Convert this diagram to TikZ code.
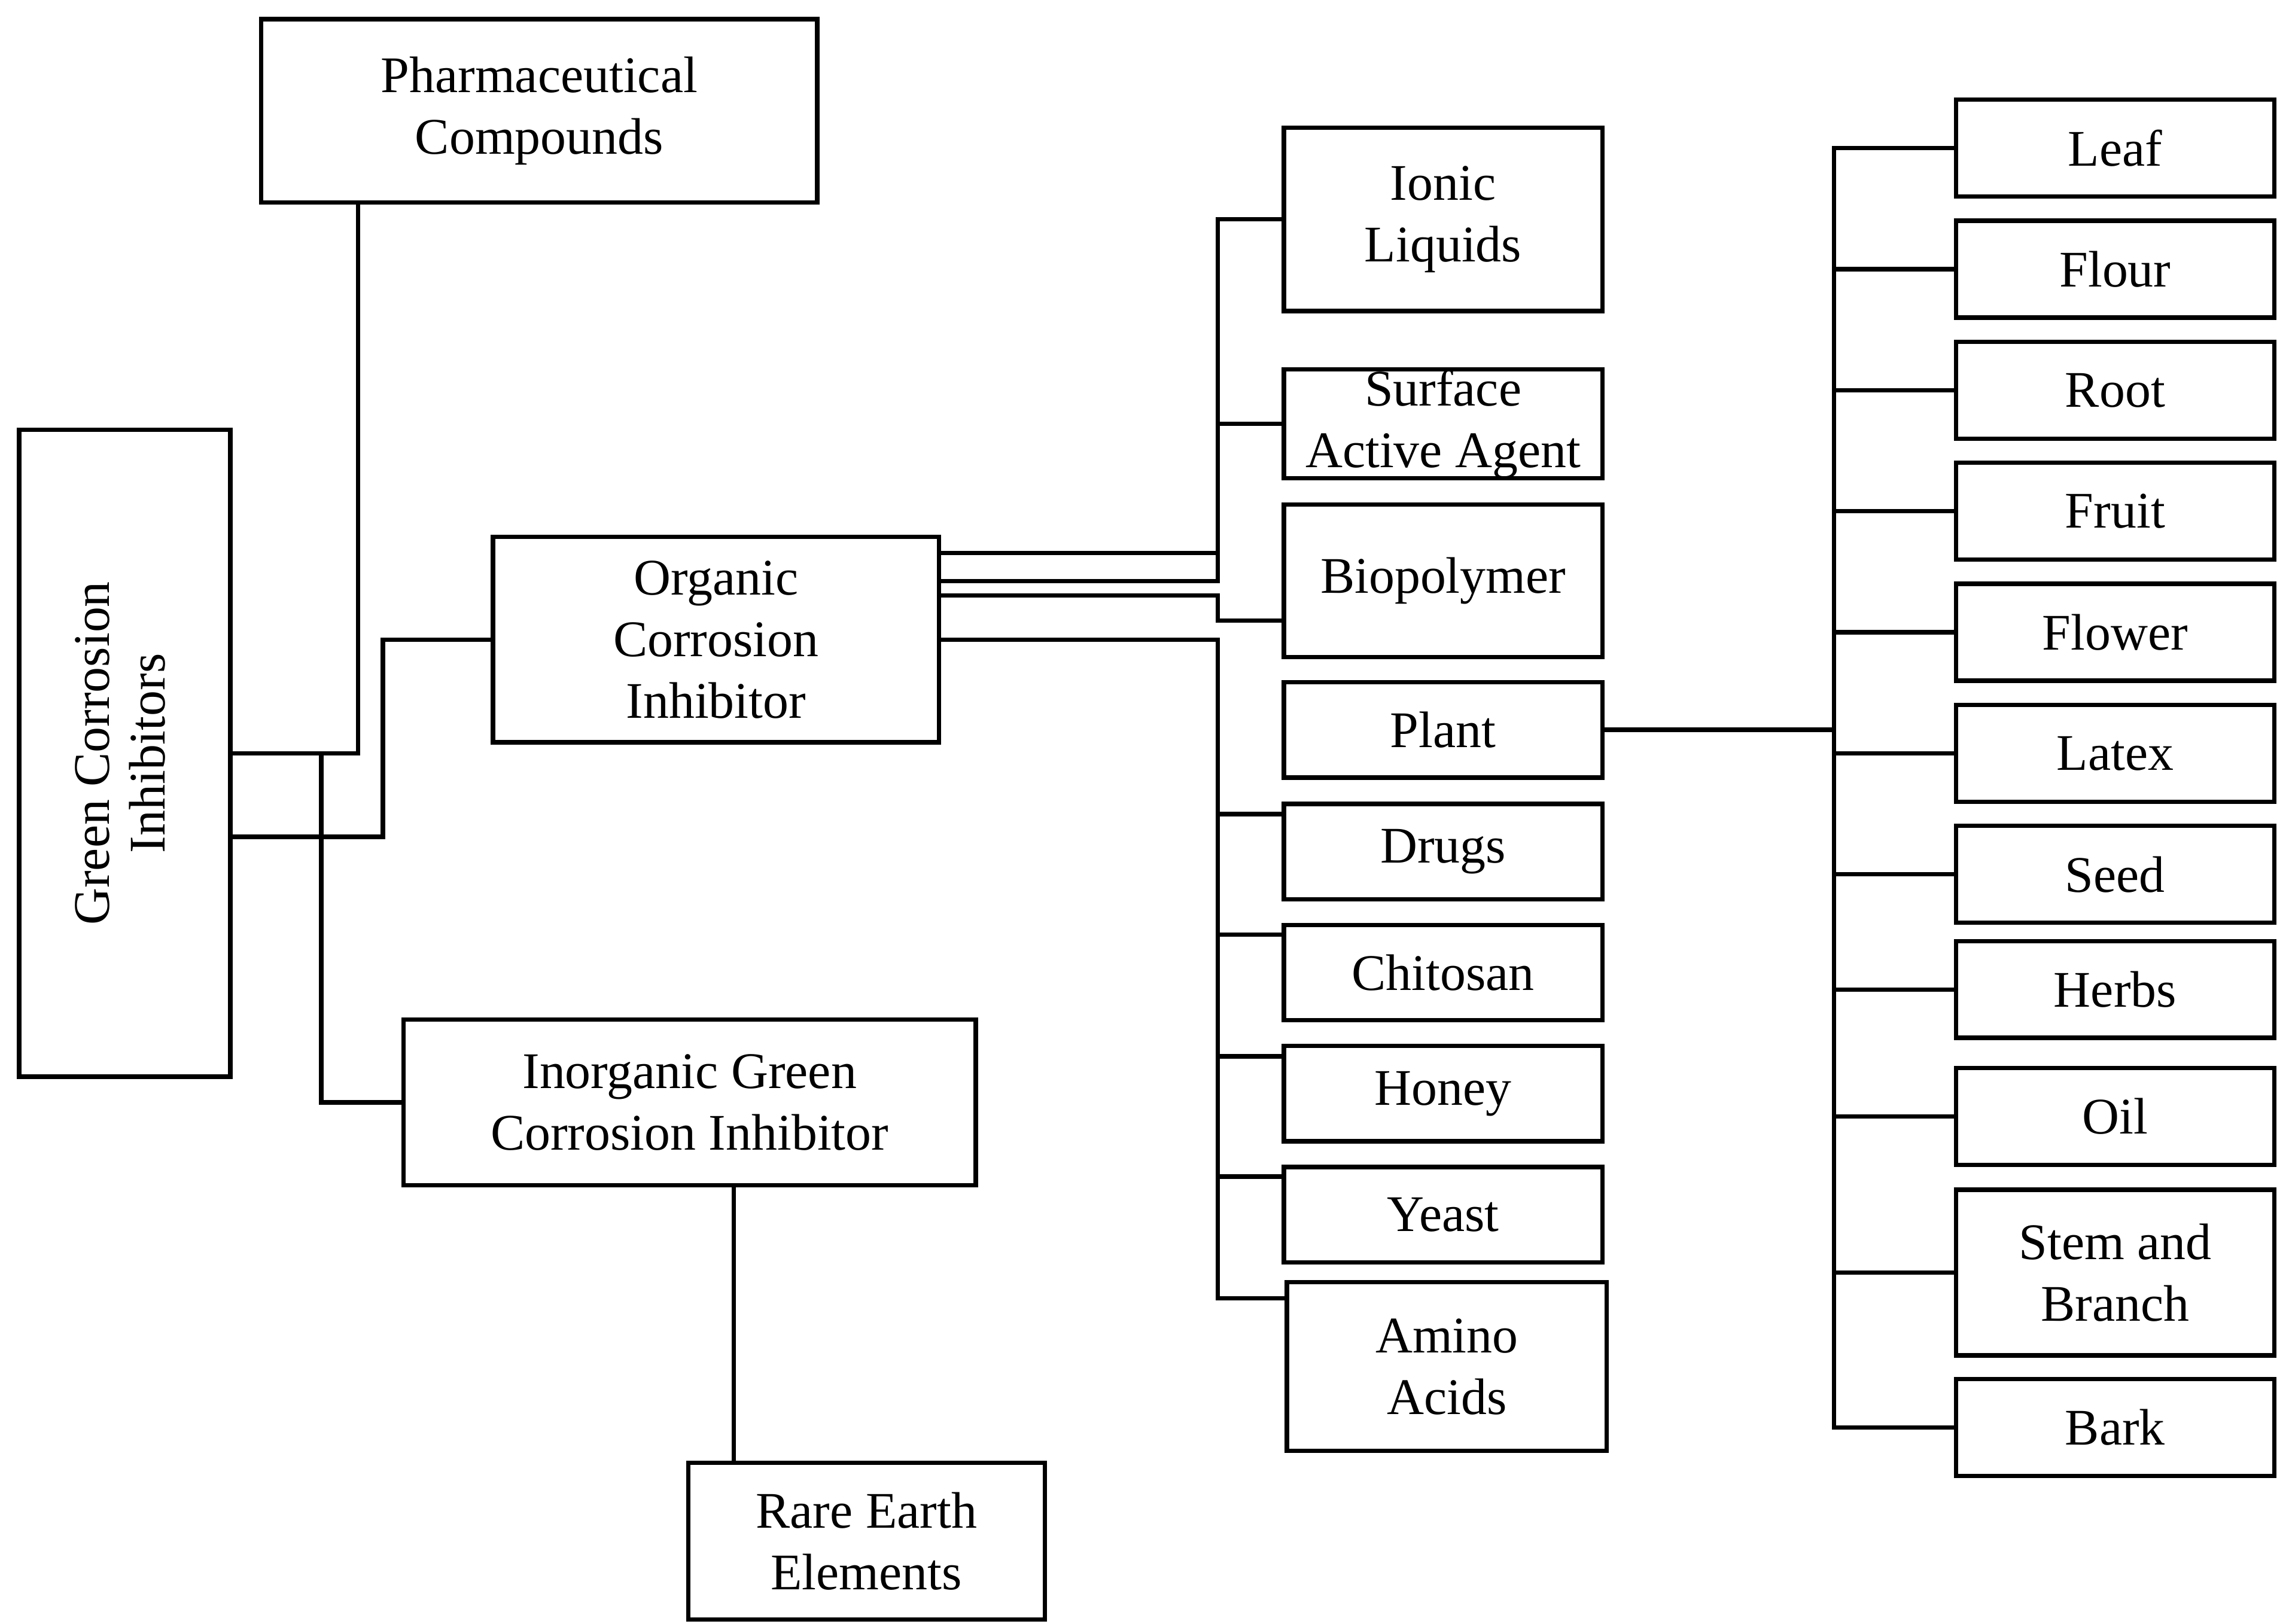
\documentclass[tikz,border=0pt]{standalone}
\usepackage{fontspec}
\setmainfont{Liberation Serif}
\begin{document}
\begin{tikzpicture}[x=1pt,y=1pt,line width=3pt,
  box/.style={draw,line width=3pt,align=center,inner sep=0pt,font=\fontsize{35}{42}\selectfont},
  mid/.style={box,minimum width=217,minimum height=65},
  rt/.style={box,minimum width=217,minimum height=66}]
\useasboundingbox (0,0) rectangle (1560,1107);
\node[box,minimum width=379,minimum height=125] (pharma) at (367.5,1031.5) {Pharmaceutical\\Compounds};
\node[box,minimum width=144,minimum height=441] (green) at (85,593.5) {\rotatebox{90}{\begin{tabular}{@{}c@{}}Green Corrosion\\[-4pt]Inhibitors\end{tabular}}};
\node[box,minimum width=304,minimum height=140] (organic) at (488,671) {Organic\\Corrosion\\Inhibitor};
\node[box,minimum width=390,minimum height=113] (inorganic) at (470,355.5) {Inorganic Green\\Corrosion Inhibitor};
\node[box,minimum width=243,minimum height=107] (rare) at (590.5,56.5) {Rare Earth\\Elements};
\node[mid,minimum height=125] (ionic) at (983.5,957.5) {Ionic\\Liquids};
\node[mid,minimum height=66] (surface) at (983.5,818) {Surface\\Active Agent};
\node[mid,minimum height=104] (bio) at (983.5,711) {Biopolymer};
\node[mid] (plant) at (983.5,609.5) {Plant};
\node[mid] (drugs) at (983.5,526.5) {Drugs};
\node[mid] (chitosan) at (983.5,444) {Chitosan};
\node[mid] (honey) at (983.5,361.5) {Honey};
\node[mid] (yeast) at (983.5,279) {Yeast};
\node[box,minimum width=218,minimum height=115] (amino) at (986,175.5) {Amino\\Acids};
\node[rt] (leaf) at (1441.5,1006) {Leaf};
\node[rt] (flour) at (1441.5,923.5) {Flour};
\node[rt] (root) at (1441.5,841) {Root};
\node[rt] (fruit) at (1441.5,758.5) {Fruit};
\node[rt] (flower) at (1441.5,676) {Flower};
\node[rt] (latex) at (1441.5,593.5) {Latex};
\node[rt] (seed) at (1441.5,511) {Seed};
\node[rt] (herbs) at (1441.5,432.5) {Herbs};
\node[rt] (oil) at (1441.5,346) {Oil};
\node[rt,minimum height=113] (stem) at (1441.5,239.5) {Stem and\\Branch};
\node[rt] (bark) at (1441.5,134) {Bark};
% left connectors
\draw (green.east) -| ([xshift=-123.5]pharma.south);
\draw ([yshift=-57]green.east) -- (261,536.5) |- (organic.west);
\coordinate (j1) at (219,593.5);
\draw (j1) |- (inorganic.west);
\draw ([xshift=30]inorganic.south) -- ([xshift=-90.5]rare.north);
% organic right
\draw ([yshift=59]organic.east) -- (830,730);
\draw (ionic.west) -| (830,711) -- ([yshift=40]organic.east);
\draw (surface.west) -- (830,818);
\draw ([yshift=30]organic.east) -- (830,701) |- ([yshift=-27]bio.west);
\draw (organic.east) -| (830,222) -- ([yshift=46.5]amino.west);
\draw (830,552) -- ([yshift=25.5]drugs.west);
\draw (830,470) -- ([yshift=26]chitosan.west);
\draw (830,387) -- ([yshift=25.5]honey.west);
\draw (830,305) -- ([yshift=26]yeast.west);
% plant
\draw (plant.east) -- (1250,609.5);
\draw (leaf.west) -| (1250,134) -- (bark.west);
\foreach \n in {flour,root,fruit,flower,latex,seed,herbs,oil,stem}
  \draw (\n.west) -- (1250,0 |- \n.west);
\end{tikzpicture}
\end{document}
